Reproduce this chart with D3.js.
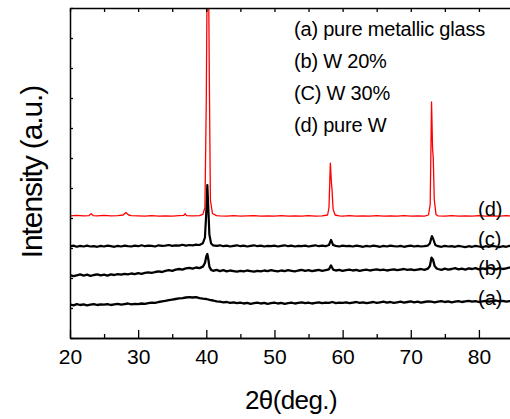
<!DOCTYPE html>
<html>
<head>
<meta charset="utf-8">
<script src="https://cdn.jsdelivr.net/npm/d3@7"></script>
<style>
  body { margin: 0; background: #fff; }
  svg { display: block; font-family: "Liberation Sans", Arial, sans-serif; }
</style>
</head>
<body>
<svg id="chart" width="510" height="419"></svg>
<script>
// XRD patterns, [2theta, intensity] (intensity in tick units)
const pureW = [
  [20,4.07],[21,4.09],[22,4.07],[22.8,4.08],[23.1,4.14],[23.4,4.08],[24,4.07],[25,4.09],[26,4.07],
  [27,4.08],[27.8,4.1],[28.2,4.18],[28.6,4.1],[29,4.08],[30,4.07],[31,4.06],[32,4.08],[33,4.06],
  [34,4.07],[35,4.06],[36,4.08],[36.7,4.09],[36.9,4.14],[37.1,4.08],[38,4.07],[39,4.08],[39.5,4.12],
  [39.8,4.35],[40.0,8],[40.15,13],[40.3,13],[40.45,8.5],[40.6,4.6],[40.9,4.15],[41.5,4.08],[42,4.07],
  [43,4.06],[44,4.08],[45,4.06],[46,4.07],[47,4.08],[48,4.06],[49,4.07],[50,4.06],[51,4.08],
  [52,4.06],[53,4.07],[54,4.06],[55,4.08],[56,4.06],[57,4.07],[57.8,4.1],[58.0,4.35],[58.2,5.83],
  [58.35,5.2],[58.45,4.93],[58.6,4.3],[58.9,4.1],[59.5,4.07],[60,4.06],[61,4.08],[62,4.06],[63,4.07],
  [64,4.06],[65,4.08],[66,4.06],[67,4.07],[68,4.06],[69,4.08],[70,4.06],[71,4.07],[72,4.06],
  [72.6,4.1],[72.85,4.45],[73.05,7.87],[73.2,6.3],[73.3,6.0],[73.45,4.6],[73.7,4.12],[74,4.07],
  [75,4.06],[76,4.08],[77,4.06],[78,4.07],[79,4.06],[80,4.08],[81,4.06],[82,4.07],[83,4.06],
  [84,4.08],[85,4.06]
]

const w30 = [
  [20,3.05],[20.5,3.08],[21,3.04],[21.5,3.07],[22,3.05],[22.5,3.08],[23,3.05],[23.5,3.06],[24,3.04],
  [24.5,3.07],[25,3.05],[25.5,3.08],[26,3.06],[26.5,3.04],[27,3.07],[27.5,3.05],[28,3.08],[28.5,3.06],
  [29,3.05],[29.5,3.08],[30,3.06],[30.5,3.09],[31,3.06],[31.5,3.08],[32,3.07],[32.5,3.05],[33,3.09],
  [33.5,3.07],[34,3.08],[34.5,3.1],[35,3.07],[35.5,3.09],[36,3.08],[36.5,3.11],[37,3.08],[37.5,3.1],
  [38,3.09],[38.5,3.11],[39,3.1],[39.5,3.16],[39.8,3.35],[40.0,4.2],[40.15,5.1],[40.3,4.3],[40.45,3.45],
  [40.7,3.15],[41,3.09],[41.5,3.07],[42,3.09],[42.5,3.06],[43,3.08],[43.5,3.05],[44,3.07],[44.5,3.09],
  [45,3.06],[45.5,3.08],[46,3.05],[46.5,3.07],[47,3.09],[47.5,3.06],[48,3.08],[48.5,3.05],[49,3.07],
  [49.5,3.06],[50,3.08],[50.5,3.05],[51,3.07],[51.5,3.09],[52,3.06],[52.5,3.08],[53,3.05],[53.5,3.07],
  [54,3.06],[54.5,3.08],[55,3.05],[55.5,3.07],[56,3.09],[56.5,3.06],[57,3.08],[57.5,3.06],[58,3.1],
  [58.3,3.27],[58.6,3.1],[59,3.07],[59.5,3.05],[60,3.08],[60.5,3.06],[61,3.07],[61.5,3.05],[62,3.08],
  [62.5,3.06],[63,3.04],[63.5,3.07],[64,3.05],[64.5,3.08],[65,3.06],[65.5,3.04],[66,3.07],[66.5,3.05],
  [67,3.08],[67.5,3.06],[68,3.05],[68.5,3.07],[69,3.04],[69.5,3.06],[70,3.08],[70.5,3.05],[71,3.07],
  [71.5,3.05],[72,3.06],[72.5,3.08],[72.8,3.15],[73.1,3.4],[73.3,3.3],[73.6,3.1],[74,3.06],[74.5,3.04],
  [75,3.07],[75.5,3.05],[76,3.06],[76.5,3.04],[77,3.07],[77.5,3.05],[78,3.03],[78.5,3.06],[79,3.04],
  [79.5,3.07],[80,3.05],[80.5,3.03],[81,3.06],[81.5,3.04],[82,3.07],[82.5,3.05],[83,3.03],[83.5,3.06],
  [84,3.04],[84.5,3.07],[85,3.05]
]

const w20 = [
  [20,2.1],[20.5,2.06],[21,2.09],[21.5,2.12],[22,2.08],[22.5,2.11],[23,2.07],[23.5,2.1],[24,2.12],
  [24.5,2.09],[25,2.11],[25.5,2.08],[26,2.12],[26.5,2.1],[27,2.13],[27.5,2.11],[28,2.14],[28.5,2.12],
  [29,2.15],[29.5,2.13],[30,2.16],[30.5,2.14],[31,2.17],[31.5,2.19],[32,2.17],[32.5,2.2],[33,2.22],
  [33.5,2.2],[34,2.24],[34.5,2.26],[35,2.24],[35.5,2.28],[36,2.3],[36.5,2.28],[37,2.32],[37.5,2.34],
  [38,2.31],[38.5,2.35],[39,2.33],[39.5,2.38],[39.8,2.5],[40.0,2.72],[40.15,2.8],[40.3,2.62],[40.45,2.38],
  [40.7,2.27],[41,2.24],[41.5,2.27],[42,2.23],[42.5,2.26],[43,2.22],[43.5,2.25],[44,2.23],[44.5,2.21],
  [45,2.24],[45.5,2.22],[46,2.25],[46.5,2.23],[47,2.21],[47.5,2.24],[48,2.22],[48.5,2.25],[49,2.23],
  [49.5,2.26],[50,2.24],[50.5,2.22],[51,2.25],[51.5,2.23],[52,2.26],[52.5,2.24],[53,2.22],[53.5,2.25],
  [54,2.27],[54.5,2.24],[55,2.26],[55.5,2.23],[56,2.25],[56.5,2.27],[57,2.24],[57.5,2.26],[58,2.29],
  [58.3,2.42],[58.6,2.28],[59,2.25],[59.5,2.27],[60,2.24],[60.5,2.26],[61,2.28],[61.5,2.25],[62,2.27],
  [62.5,2.24],[63,2.26],[63.5,2.28],[64,2.25],[64.5,2.27],[65,2.29],[65.5,2.26],[66,2.28],[66.5,2.25],
  [67,2.27],[67.5,2.29],[68,2.26],[68.5,2.28],[69,2.3],[69.5,2.27],[70,2.29],[70.5,2.26],[71,2.28],
  [71.5,2.3],[72,2.27],[72.5,2.31],[72.8,2.4],[73.05,2.68],[73.25,2.62],[73.5,2.4],[73.8,2.32],[74,2.3],
  [74.5,2.27],[75,2.31],[75.5,2.28],[76,2.3],[76.5,2.33],[77,2.29],[77.5,2.31],[78,2.28],[78.5,2.32],
  [79,2.3],[79.5,2.33],[80,2.29],[80.5,2.32],[81,2.3],[81.5,2.34],[82,2.31],[82.5,2.29],[83,2.33],
  [83.5,2.3],[84,2.32],[84.5,2.35],[85,2.31]
]

const glass = [
  [20,1.12],[20.5,1.09],[21,1.13],[21.5,1.1],[22,1.12],[22.5,1.09],[23,1.11],[23.5,1.13],[24,1.1],
  [24.5,1.12],[25,1.11],[25.5,1.13],[26,1.1],[26.5,1.12],[27,1.14],[27.5,1.11],[28,1.13],[28.5,1.15],
  [29,1.12],[29.5,1.14],[30,1.13],[30.5,1.15],[31,1.14],[31.5,1.16],[32,1.18],[32.5,1.17],[33,1.2],
  [33.5,1.22],[34,1.24],[34.5,1.26],[35,1.28],[35.5,1.3],[36,1.32],[36.5,1.33],[37,1.35],[37.5,1.36],
  [38,1.35],[38.5,1.36],[39,1.33],[39.5,1.31],[40,1.3],[40.5,1.27],[41,1.25],[41.5,1.22],[42,1.21],
  [42.5,1.19],[43,1.2],[43.5,1.17],[44,1.19],[44.5,1.16],[45,1.18],[45.5,1.15],[46,1.17],[46.5,1.14],
  [47,1.16],[47.5,1.18],[48,1.15],[48.5,1.17],[49,1.14],[49.5,1.16],[50,1.18],[50.5,1.15],[51,1.17],
  [51.5,1.14],[52,1.16],[52.5,1.18],[53,1.15],[53.5,1.17],[54,1.19],[54.5,1.16],[55,1.18],[55.5,1.15],
  [56,1.17],[56.5,1.19],[57,1.16],[57.5,1.18],[58,1.17],[58.5,1.2],[59,1.16],[59.5,1.18],[60,1.17],
  [60.5,1.19],[61,1.16],[61.5,1.18],[62,1.2],[62.5,1.17],[63,1.19],[63.5,1.16],[64,1.18],[64.5,1.2],
  [65,1.17],[65.5,1.19],[66,1.21],[66.5,1.18],[67,1.2],[67.5,1.17],[68,1.19],[68.5,1.21],[69,1.18],
  [69.5,1.2],[70,1.22],[70.5,1.19],[71,1.21],[71.5,1.18],[72,1.2],[72.5,1.22],[73,1.21],[73.5,1.19],
  [74,1.21],[74.5,1.23],[75,1.2],[75.5,1.22],[76,1.19],[76.5,1.21],[77,1.23],[77.5,1.2],[78,1.22],
  [78.5,1.24],[79,1.21],[79.5,1.23],[80,1.2],[80.5,1.22],[81,1.24],[81.5,1.21],[82,1.23],[82.5,1.25],
  [83,1.22],[83.5,1.24],[84,1.21],[84.5,1.23],[85,1.24]
]

const legendLines = ["(a) pure metallic glass", "(b) W 20%", "(C) W 30%", "(d) pure W"]
const curveTags = ["(a)", "(b)", "(c)", "(d)"]
const curveTagLevels = [1.37, 2.37, 3.33, 4.33]   // in intensity units, where the tag sits
const xMajor = [20, 30, 40, 50, 60, 70, 80]
const xMinor = [25, 35, 45, 55, 65, 75, 85]
const yTicks = [0, 1, 2, 3, 4, 5, 6, 7, 8, 9, 10, 11]

const margin = {left: 70, top: 8}
const W = 443, H = 330

const svg = d3.select("#chart")
const g = svg.append("g").attr("transform", `translate(${margin.left},${margin.top})`)

const x = d3.scaleLinear().domain([20, 85]).range([0, W])
const y = d3.scaleLinear().domain([0, 11]).range([H, 0])

g.append("defs").append("clipPath").attr("id", "plotClip")
  .append("rect").attr("width", W).attr("height", H)

const line = d3.line().x(d => x(d[0])).y(d => y(d[1]))

const series = [
  {data: glass, color: "#000", width: 2.3},
  {data: w20, color: "#000", width: 2.3},
  {data: w30, color: "#000", width: 2.2},
  {data: pureW, color: "#f00", width: 1.3}
]

g.append("g").attr("clip-path", "url(#plotClip)")
  .selectAll("path").data(series).join("path")
    .attr("d", s => line(s.data))
    .attr("fill", "none")
    .attr("stroke", s => s.color)
    .attr("stroke-width", s => s.width)
    .attr("stroke-linejoin", "round")

//axes, ticks point inward
const axisStyle = sel => {
  sel.selectAll("path.domain").attr("stroke", "#000").attr("stroke-width", 1.5)
  sel.selectAll(".tick line").attr("stroke", "#000").attr("stroke-width", 1.3)
}

g.append("g").attr("transform", `translate(0,${H})`)
  .call(d3.axisBottom(x).tickValues(xMajor).tickSize(-8).tickSizeOuter(0).tickPadding(11).tickFormat(d3.format("d")))
  .call(axisStyle)
  .call(a => a.selectAll("text").attr("font-size", 21).attr("font-family", "Liberation Sans, Arial").attr("fill", "#000"))

g.append("g").attr("transform", `translate(0,${H})`)
  .call(d3.axisBottom(x).tickValues(xMinor).tickSize(-4).tickSizeOuter(0).tickFormat(""))
  .call(axisStyle)

g.append("g")
  .call(d3.axisTop(x).tickValues(xMajor.concat(xMinor)).tickSize(-4).tickSizeOuter(0).tickFormat(""))
  .call(axisStyle)

g.append("g")
  .call(d3.axisLeft(y).tickValues(yTicks).tickSize(-3).tickSizeOuter(0).tickFormat(""))
  .call(axisStyle)

//legend block
g.append("g").selectAll("text").data(legendLines).join("text")
  .attr("x", 224)
  .attr("y", (d, i) => 28 + i * 32)
  .attr("font-size", 20)
  .attr("letter-spacing", -0.2)
  .text(d => d)

//curve tags on the right
g.append("g").selectAll("text").data(curveTags).join("text")
  .attr("x", 408)
  .attr("y", (d, i) => y(curveTagLevels[i]) + 8)
  .attr("font-size", 20)
  .text(d => d)

//axis titles
svg.append("text")
  .attr("transform", "translate(42,172) rotate(-90)")
  .attr("text-anchor", "middle")
  .attr("font-size", 30)
  .attr("letter-spacing", -1.1)
  .text("Intensity (a.u.)")

svg.append("text")
  .attr("x", 291)
  .attr("y", 409)
  .attr("text-anchor", "middle")
  .attr("font-size", 26)
  .attr("letter-spacing", -0.6)
  .text("2θ(deg.)")
</script>
</body>
</html>
